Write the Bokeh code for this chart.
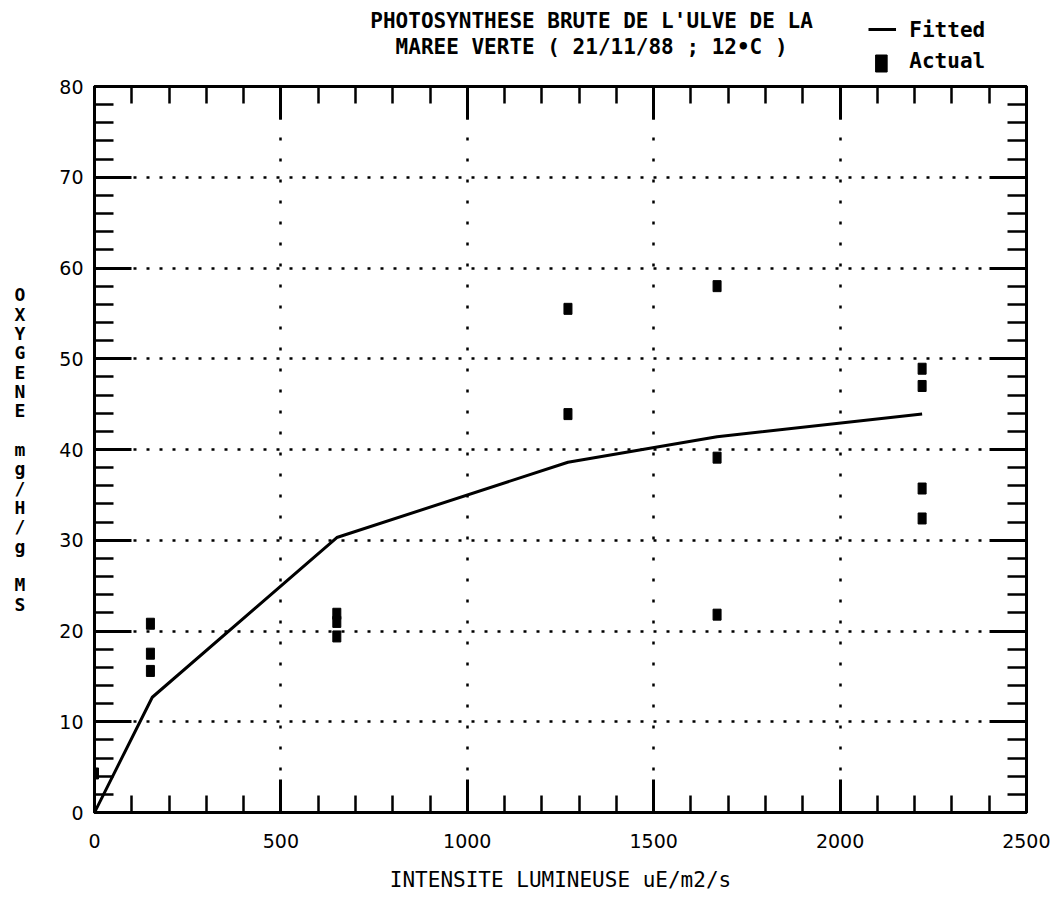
from bokeh.plotting import figure
from bokeh.layouts import column
from bokeh.models import (Range1d, LinearAxis, SingleIntervalTicker,
                          CustomJSTickFormatter, ColumnDataSource)
from bokeh.core.properties import value
from bokeh.embed import file_html
from bokeh.resources import INLINE

# ---- data ----
light_fit = [0, 155, 650, 1270, 1670, 2220]
o2_fit = [0.0, 12.7, 30.3, 38.6, 41.4, 43.9]

light_obs = [0, 150, 150, 150, 650, 650, 650, 1270, 1270,
             1670, 1670, 1670, 2220, 2220, 2220, 2220]
o2_obs = [4.3, 20.8, 17.5, 15.6, 21.9, 21.0, 19.4, 55.5, 43.9,
          58.0, 39.1, 21.8, 48.9, 47.0, 35.7, 32.4]

x_range = (0, 2500)
y_range = (0, 80)
x_major = 500
y_major = 10

title_lines = ["PHOTOSYNTHESE BRUTE DE L'ULVE DE LA",
               "MAREE VERTE ( 21/11/88 ; 12\u2022C )"]
x_title = "INTENSITE LUMINEUSE uE/m2/s"
y_title_chars = list("OXYGENE") + [" "] + list("mg/H/g") + [" "] + list("MS")
legend_fitted = "Fitted"
legend_actual = "Actual"

MONO = "DejaVu Sans Mono"
SANS = "DejaVu Sans"
W = 1050
HEAD_H = 74

# ---------------- header: title + legend ----------------
head = figure(width=W, height=HEAD_H, x_range=Range1d(0, W), y_range=Range1d(HEAD_H, 0),
              output_backend="svg", toolbar_location=None,
              x_axis_type=None, y_axis_type=None,
              min_border_left=0, min_border_right=0, min_border_top=0, min_border_bottom=0)
head.outline_line_color = None
head.xgrid.visible = False
head.ygrid.visible = False
head.background_fill_color = "white"
head.border_fill_color = "white"

head.text(x=[560, 560], y=[20, 46], text=title_lines,
          text_font=value(MONO), text_font_style="bold", text_font_size="21px",
          text_align="center", text_baseline="middle", text_color="black")
head.text(x=[918, 918], y=[29, 60], text=[legend_fitted, legend_actual],
          text_font=value(MONO), text_font_style="bold", text_font_size="21px",
          text_align="left", text_baseline="middle", text_color="black")
# legend samples
head.line(x=[872, 903], y=[29, 29], line_color="black", line_width=3)
head.rect(x=[886.5], y=[63], width=13, height=17, fill_color="black", line_color="black")

# ---------------- main plot ----------------
p = figure(width=W, height=899 - HEAD_H,
           x_range=Range1d(*x_range), y_range=Range1d(*y_range),
           output_backend="svg", toolbar_location=None,
           min_border_left=94, min_border_right=24,
           min_border_top=86 - HEAD_H, min_border_bottom=87)
p.background_fill_color = "white"
p.border_fill_color = "white"
p.outline_line_color = "black"
p.outline_line_width = 3

xt = SingleIntervalTicker(interval=x_major, num_minor_ticks=5)
yt = SingleIntervalTicker(interval=y_major, num_minor_ticks=5)
blank = CustomJSTickFormatter(code="return ''")


def style_axis(ax, tick_in, minor_in):
    ax.axis_line_width = 3
    ax.axis_line_color = "black"
    ax.major_tick_in = tick_in
    ax.major_tick_out = 0
    ax.minor_tick_in = minor_in
    ax.minor_tick_out = 0
    ax.major_tick_line_width = 3
    ax.minor_tick_line_width = 2.5
    ax.major_tick_line_color = "black"
    ax.minor_tick_line_color = "black"
    ax.major_label_text_font = SANS
    ax.major_label_text_font_size = "19px"
    ax.major_label_text_color = "black"


p.xaxis.ticker = xt
p.yaxis.ticker = yt
style_axis(p.xaxis[0], 33, 17)
style_axis(p.yaxis[0], 37, 19)
p.xaxis.major_label_standoff = 21
p.yaxis.major_label_standoff = 11

p.xaxis.axis_label = x_title
p.xaxis.axis_label_text_font = MONO
p.xaxis.axis_label_text_font_size = "21px"
p.xaxis.axis_label_text_font_style = "normal"
p.xaxis.axis_label_text_color = "black"
p.xaxis.axis_label_standoff = 17

p.yaxis.axis_label = "\n".join(y_title_chars)
p.yaxis.axis_label_orientation = "horizontal"
p.yaxis.axis_label_text_font = MONO
p.yaxis.axis_label_text_font_size = "18px"
p.yaxis.axis_label_text_font_style = "bold"
p.yaxis.axis_label_text_line_height = 0.92
p.yaxis.axis_label_text_color = "black"
p.yaxis.axis_label_standoff = 31

top_ax = LinearAxis(ticker=xt, formatter=blank)
right_ax = LinearAxis(ticker=yt, formatter=blank)
style_axis(top_ax, 33, 17)
style_axis(right_ax, 37, 19)
top_ax.major_label_text_font_size = "1px"
right_ax.major_label_text_font_size = "1px"
top_ax.major_label_standoff = 0
right_ax.major_label_standoff = 0
p.add_layout(top_ax, "above")
p.add_layout(right_ax, "right")

p.xgrid.ticker = xt
p.ygrid.ticker = yt
p.xgrid.grid_line_color = "black"
p.xgrid.grid_line_width = 2.5
p.xgrid.grid_line_dash = "3 18"
p.ygrid.grid_line_color = "black"
p.ygrid.grid_line_width = 2.5
p.ygrid.grid_line_dash = "3 10"

fit_src = ColumnDataSource(dict(x=light_fit, y=o2_fit))
obs_src = ColumnDataSource(dict(x=light_obs, y=o2_obs))
p.line("x", "y", source=fit_src, line_color="black", line_width=3)
p.rect("x", "y", width=8, height=11, width_units="screen", height_units="screen",
       source=obs_src, fill_color="black", line_color="black")

layout = column(head, p, spacing=0)
open("out.html", "w").write(file_html(layout, INLINE))
